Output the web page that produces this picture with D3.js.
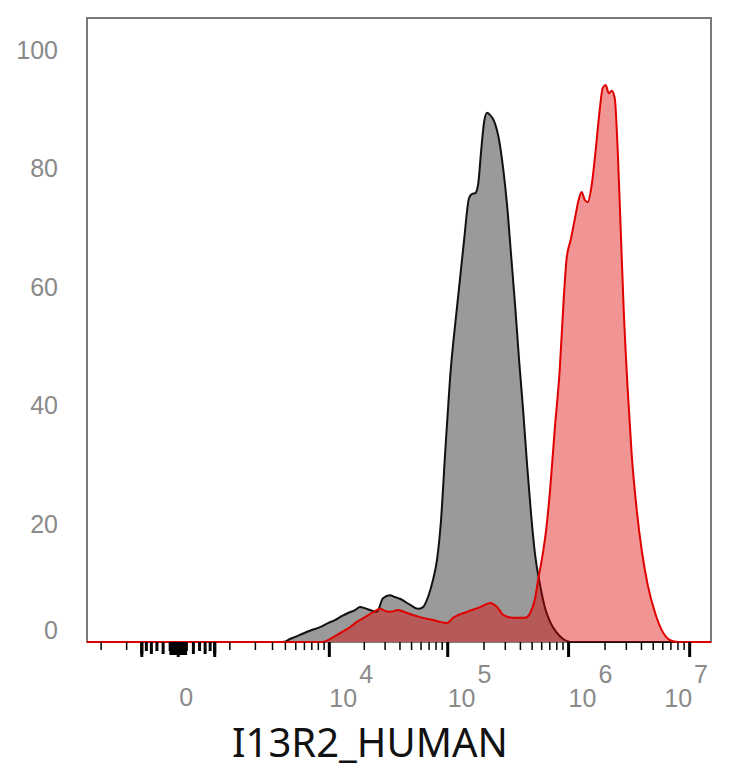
<!DOCTYPE html>
<html>
<head>
<meta charset="utf-8">
<script src="https://cdn.jsdelivr.net/npm/d3@7"></script>
<style>
  body { margin: 0; background: #fff; }
</style>
</head>
<body>
<svg width="734" height="768"></svg>
<script>
// control (unstained) histogram: fluorescence intensity vs % of max
var controlX = [3790, 4410, 5460, 6730, 8270, 9730, 11200, 12900, 14500, 16700,
  18400, 20300, 22400, 25600, 28800, 33000, 36300, 40000, 48500, 56600,
  62300, 68600, 75500, 81500, 88000, 95000, 104600, 119500, 136700, 150300,
  159200, 168600, 178500, 189000, 200200, 212000, 224500, 242300, 266500, 287600,
  310400, 334900, 361500, 390200, 421100, 454400, 490500, 529200, 582000, 640100,
  703900, 789300, 901600, 1030000];
var controlPct = [0, 0.5, 1.2, 1.9, 2.5, 3.2, 3.7, 4.4, 4.9, 5.4,
  5.9, 5.7, 5.4, 5.1, 7.4, 7.9, 7.6, 7.3, 6.3, 5.6,
  5.9, 7.6, 10.5, 13.9, 20.6, 31.6, 44.6, 56.6, 67.9, 75.0,
  75.7, 75.8, 77.2, 82.8, 87.8, 89.4, 89.0, 88.0, 84.8, 80.1,
  73.8, 65.4, 56.9, 47.6, 39.2, 29.9, 21.5, 14.7, 9.6, 5.7,
  3.4, 1.7, 0.5, 0];

// I13R2 stained histogram
var stainedX = [8790, 10100, 12400, 15100, 17300, 20300, 23200, 27200, 30500, 33600,
  38500, 45800, 58800, 75500, 98700, 110700, 144800, 185500, 224500, 256500,
  287600, 347900, 437400, 481200, 529200, 560300, 604500, 652400, 703900, 767800,
  844500, 911000, 964700, 1041000, 1123000, 1212000, 1283000, 1359000, 1439000, 1553000,
  1675000, 1808000, 1914000, 2027000, 2146000, 2272000, 2405000, 2546000, 2696000, 2854000,
  3080000, 3323000, 3655000, 4020000, 4507000, 5148000, 5880000, 6908000, 8042000];
var stainedPct = [0, 0.5, 1.5, 2.5, 3.4, 4.2, 4.9, 5.6, 5.2, 5.1,
  5.4, 4.9, 4.2, 3.7, 3.2, 4.1, 5.1, 5.9, 6.6, 5.9,
  4.6, 4.1, 4.1, 4.9, 7.4, 10.5, 14.2, 18.9, 25.7, 35.8,
  45.9, 57.8, 64.9, 67.9, 71.3, 74.7, 76.0, 74.7, 74.3, 77.2,
  83.1, 89.9, 93.6, 94.1, 92.7, 93.1, 91.9, 83.1, 69.6, 56.1,
  42.6, 31.6, 22.3, 15.5, 9.6, 5.1, 2.0, 0.3, 0];

var yTicks = [0, 20, 40, 60, 80, 100];
var labelDecades = [4, 5, 6, 7];
var minorDecades = [3, 4, 5, 6];
var axisTitle = 'I13R2_HUMAN';

var svg = d3.select('svg');
var plotLeft = 87, plotRight = 711, plotTop = 18, plotBottom = 642;

var xDomain = [-2800, 1.5e7];
var x = d3.scaleSymlog()
    .constant(600)
    .domain(xDomain)
    .range([plotLeft, plotRight]);

var y = d3.scaleLinear()
    .domain([0, 100])
    .range([plotBottom, 50]);

// frame
svg.append('rect')
    .attr('x', plotLeft)
    .attr('y', plotTop)
    .attr('width', plotRight - plotLeft)
    .attr('height', plotBottom - plotTop)
    .attr('fill', 'none')
    .attr('stroke', '#7a7a7a')
    .attr('stroke-width', 2);

function toPoints(xs, ys) {
    var pts = xs.map(function (d, i) { return [d, ys[i]]; });
    return [[xDomain[0], 0]].concat(pts, [[xDomain[1], 0]]);
}

var area = d3.area()
    .x(function (d) { return x(d[0]); })
    .y0(y(0))
    .y1(function (d) { return y(d[1]); })
    .curve(d3.curveMonotoneX);

var line = d3.line()
    .x(function (d) { return x(d[0]); })
    .y(function (d) { return y(d[1]); })
    .curve(d3.curveMonotoneX);

var control = toPoints(controlX, controlPct);
var stained = toPoints(stainedX, stainedPct);

svg.append('path').datum(control)
    .attr('d', area)
    .attr('fill', '#9a9a9a');
svg.append('path').datum(control)
    .attr('d', line)
    .attr('fill', 'none')
    .attr('stroke', '#111')
    .attr('stroke-width', 2);

svg.append('path').datum(stained)
    .attr('d', area)
    .attr('fill', '#dc0000')
    .attr('fill-opacity', 0.42);
svg.append('path').datum(stained)
    .attr('d', line)
    .attr('fill', 'none')
    .attr('stroke', '#e00000')
    .attr('stroke-width', 2);

// x ticks
var minorTicks = [];
minorDecades.forEach(function (e) {
    for (var k = 1; k <= 9; k++) {
        if (k === 1 && e > 3) continue;
        minorTicks.push(k * Math.pow(10, e));
    }
});
minorTicks.push(-1000, -2000);

var clusterTicks = [];
for (var k = 1; k <= 9; k++) { clusterTicks.push(k * 10, -k * 10); }
for (var k = 1; k <= 6; k++) { clusterTicks.push(k * 100, -k * 100); }

var majorTicks = [0, 600, -600].concat(labelDecades.map(function (e) { return Math.pow(10, e); }));

var ticks = svg.append('g');
ticks.selectAll('.minor')
    .data(minorTicks)
    .enter().append('line')
    .attr('x1', function (d) { return x(d); })
    .attr('x2', function (d) { return x(d); })
    .attr('y1', plotBottom)
    .attr('y2', plotBottom + 8)
    .attr('stroke', '#000')
    .attr('stroke-width', 1.5);

ticks.selectAll('.cluster')
    .data(clusterTicks)
    .enter().append('line')
    .attr('x1', function (d) { return x(d); })
    .attr('x2', function (d) { return x(d); })
    .attr('y1', plotBottom)
    .attr('y2', function (d) {
        var a = Math.abs(d);
        return plotBottom + (a % 200 === 0 ? 12 : a >= 100 ? 9 : 13);
    })
    .attr('stroke', '#000')
    .attr('stroke-width', 3);

ticks.selectAll('.major')
    .data(majorTicks)
    .enter().append('line')
    .attr('x1', function (d) { return x(d); })
    .attr('x2', function (d) { return x(d); })
    .attr('y1', plotBottom)
    .attr('y2', plotBottom + 15)
    .attr('stroke', '#000')
    .attr('stroke-width', 3);

// x labels
var labelFont = '"Liberation Sans", Arial, sans-serif';
svg.append('text')
    .attr('x', x(0) + 1)
    .attr('y', 706)
    .attr('font-family', labelFont)
    .attr('font-size', 25)
    .attr('fill', '#8a8a8a')
    .text('0');

labelDecades.forEach(function (e) {
    var t = svg.append('text')
        .attr('x', x(Math.pow(10, e)))
        .attr('y', 707)
        .attr('font-family', labelFont)
        .attr('font-size', 25)
        .attr('fill', '#8a8a8a');
    t.append('tspan').text('10');
    t.append('tspan').attr('dx', 2).attr('dy', -24).text(e);
    var w = t.node().getComputedTextLength() + 2;
    if (x(Math.pow(10, e)) + w > plotRight - 3) {
        t.attr('x', plotRight - 3 - w);
    }
});

// y labels
svg.selectAll('.ylab')
    .data(yTicks)
    .enter().append('text')
    .attr('x', 58)
    .attr('y', function (d) { return y(d) + (d === 0 ? -12 : 0); })
    .attr('dy', '0.36em')
    .attr('text-anchor', 'end')
    .attr('font-family', labelFont)
    .attr('font-size', 25)
    .attr('fill', '#8a8a8a')
    .text(function (d) { return d; });

svg.append('text')
    .attr('x', 370)
    .attr('y', 757)
    .attr('text-anchor', 'middle')
    .attr('font-family', '"Noto Sans", "Open Sans", sans-serif')
    .attr('font-size', 40)
    .attr('fill', '#111')
    .text(axisTitle);
</script>
</body>
</html>
